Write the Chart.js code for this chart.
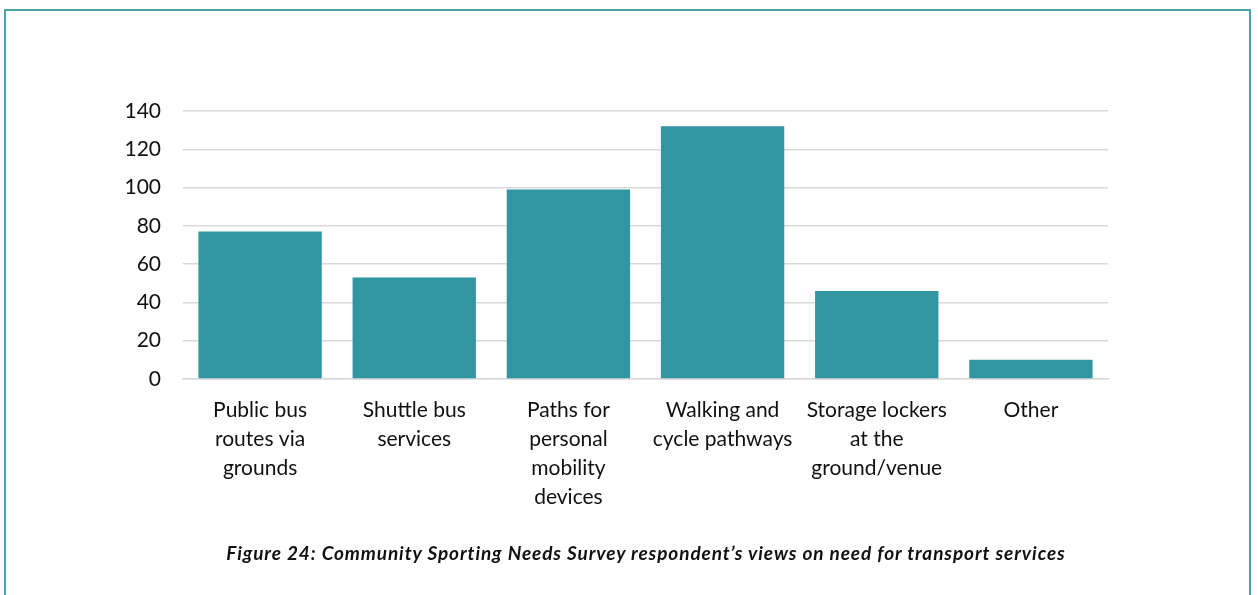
<!DOCTYPE html>
<html>
<head>
<meta charset="utf-8">
<script src="https://cdn.jsdelivr.net/npm/chart.js@4/dist/chart.umd.min.js"></script>
<style>
  html, body { margin: 0; padding: 0; background: #fff; }
  #wrap { position: relative; width: 1258px; height: 595px; overflow: hidden; }
  #frame {
    position: absolute; left: 4px; top: 9px; width: 1247px; height: 600px;
    border: 2px solid #45a3a9; box-sizing: border-box;
  }
  #chart { position: absolute; left: 0; top: 0; }
  #caption {
    position: absolute; left: 17px; top: 541px; width: 1258px; text-align: center;
    font-family: Lato, "Noto Sans", sans-serif; font-weight: bold; font-style: italic;
    font-size: 19px; letter-spacing: 0.9px; color: #111;
  }
</style>
</head>
<body>
<div id="wrap">
  <div id="frame"></div>
  <canvas id="chart" width="1258" height="595"></canvas>
  <div id="caption">Figure 24: Community Sporting Needs Survey respondent’s views on need for transport services</div>
</div>
<script>
// survey responses per transport service
const categories = [
  ["Public bus", "routes via", "grounds"],
  ["Shuttle bus", "services"],
  ["Paths for", "personal", "mobility", "devices"],
  ["Walking and", "cycle pathways"],
  ["Storage lockers", "at the", "ground/venue"],
  ["Other"]
];
const responses = [77, 53, 99, 132, 46, 10];
const yTicks = [0, 20, 40, 60, 80, 100, 120, 140];

const FONT = "Lato, 'Noto Sans', sans-serif";
const GRID = "#d9d9d9";

new Chart(document.getElementById("chart"), {
  type: "bar",
  data: {
    labels: categories,
    datasets: [{
      data: responses,
      backgroundColor: "#3196a0",
      borderWidth: 0,
      categoryPercentage: 1,
      barPercentage: 0.8
    }]
  },
  options: {
    responsive: false,
    animation: false,
    layout: { padding: { left: 0, right: 150, top: 111, bottom: 60 } },
    plugins: { legend: { display: false }, tooltip: { enabled: false } },
    scales: {
      x: {
        grid: { display: false, drawTicks: false },
        border: { display: true, color: GRID, width: 1.5 },
        ticks: { color: "#111", padding: 17, maxRotation: 0, autoSkip: false,
                 font: { family: FONT, size: 21, lineHeight: 1.38 } },
        afterFit: s => { s.height = 156; }
      },
      y: {
        min: 0, max: 140,
        afterBuildTicks: s => { s.ticks = yTicks.map(v => ({ value: v })); },
        grid: { color: GRID, lineWidth: 1.5, drawTicks: false },
        border: { display: false },
        ticks: { color: "#111", padding: 22, font: { family: FONT, size: 21 } },
        afterFit: s => { s.width = 183; }
      }
    }
  }
});
</script>
</body>
</html>
